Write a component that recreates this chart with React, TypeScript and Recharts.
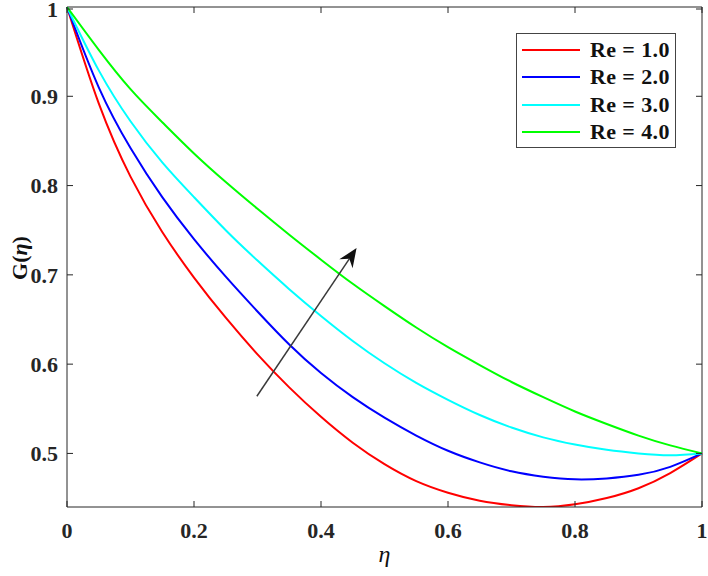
import React from "react";
import { LineChart, Line, XAxis, YAxis, Legend, ReferenceLine } from "recharts";

// eta grid and G(eta) profiles for each Reynolds number
const eta = [0, 0.05, 0.1, 0.15, 0.2, 0.25, 0.3, 0.35, 0.4, 0.45, 0.5, 0.55, 0.6, 0.65, 0.7, 0.75, 0.8, 0.85, 0.9, 0.95, 1];
const re1 = [1, 0.892, 0.81, 0.748, 0.697, 0.652, 0.611, 0.574, 0.541, 0.512, 0.488, 0.469, 0.456, 0.447, 0.442, 0.44, 0.443, 0.45, 0.461, 0.478, 0.5];
const re2 = [1, 0.91, 0.842, 0.787, 0.74, 0.698, 0.659, 0.622, 0.59, 0.563, 0.54, 0.52, 0.503, 0.49, 0.48, 0.474, 0.471, 0.472, 0.476, 0.485, 0.5];
const re3 = [1, 0.929, 0.872, 0.826, 0.787, 0.75, 0.716, 0.684, 0.654, 0.626, 0.601, 0.579, 0.56, 0.543, 0.529, 0.518, 0.51, 0.504, 0.5, 0.498, 0.5];
const re4 = [1, 0.952, 0.908, 0.871, 0.836, 0.804, 0.774, 0.745, 0.717, 0.69, 0.665, 0.641, 0.619, 0.599, 0.58, 0.563, 0.547, 0.533, 0.52, 0.509, 0.5];

const seriesNames = ["Re = 1.0", "Re = 2.0", "Re = 3.0", "Re = 4.0"];
const seriesKeys = ["re1", "re2", "re3", "re4"];
const seriesColors = ["#ff0000", "#0000ff", "#00ffff", "#00ff00"];

const xTicks = [0, 0.2, 0.4, 0.6, 0.8, 1];
const yTicks = [0.5, 0.6, 0.7, 0.8, 0.9, 1];

// arrow showing the direction of increasing Re
const arrowFrom = { x: 0.299, y: 0.564 };
const arrowTo = { x: 0.456, y: 0.73 };

const data = eta.map((e, i) => ({ eta: e, re1: re1[i], re2: re2[i], re3: re3[i], re4: re4[i] }));

const W = 708;
const H = 576;
const PLOT = { left: 67, top: 7, right: 702, bottom: 507 };
const FONT = "'Liberation Serif', 'Times New Roman', serif";
const AXIS = "#262626";

const YTick = (props: any) => {
  const { x, y, payload } = props;
  return (
    <g>
      <text x={x} y={y} dy="0.35em" textAnchor="end" fontFamily={FONT} fontWeight="bold" fontSize={22} fill="#262626">
        {String(payload.value)}
      </text>
      <line x1={PLOT.left} x2={PLOT.left + 6} y1={y} y2={y} stroke={AXIS} />
      <line x1={PLOT.right} x2={PLOT.right - 6} y1={y} y2={y} stroke={AXIS} />
    </g>
  );
};

const XTick = (props: any) => {
  const { x, y, payload } = props;
  return (
    <g>
      <text x={x} y={y} dy="0.71em" textAnchor="middle" fontFamily={FONT} fontWeight="bold" fontSize={22} fill="#262626">
        {String(payload.value)}
      </text>
      <line x1={x} x2={x} y1={PLOT.bottom} y2={PLOT.bottom - 6} stroke={AXIS} />
      <line x1={x} x2={x} y1={PLOT.top} y2={PLOT.top + 6} stroke={AXIS} />
    </g>
  );
};

const Arrow = (props: any) => {
  const { x1, y1, x2, y2 } = props;
  const a = Math.atan2(y2 - y1, x2 - x1);
  const ux = Math.cos(a);
  const uy = Math.sin(a);
  const nx = -uy;
  const ny = ux;
  const len = 19;
  const half = 8;
  const notch = 13;
  const bx = x2 - len * ux;
  const by = y2 - len * uy;
  const pts = [
    [x2, y2],
    [bx + half * nx, by + half * ny],
    [x2 - notch * ux, y2 - notch * uy],
    [bx - half * nx, by - half * ny],
  ]
    .map((p) => p.join(","))
    .join(" ");
  return (
    <g>
      <line x1={x1} y1={y1} x2={x2 - notch * ux} y2={y2 - notch * uy} stroke="#3a3a3a" strokeWidth={1.5} />
      <polygon points={pts} fill="#111" />
    </g>
  );
};

const LegendBox = () => (
  <div
    style={{
      width: 160,
      height: 115,
      boxSizing: "border-box",
      border: "1px solid #444",
      background: "#fff",
      position: "relative",
    }}
  >
    {seriesNames.map((name, i) => (
      <div key={name} style={{ position: "absolute", left: 0, top: 16 + i * 27.3 - 12, height: 24, width: 160 }}>
        <div style={{ position: "absolute", left: 5, top: 11, width: 58, height: 2, background: seriesColors[i] }} />
        <span
          style={{
            position: "absolute",
            left: 73,
            top: 0,
            lineHeight: "24px",
            fontFamily: FONT,
            fontWeight: "bold",
            fontSize: 22,
            letterSpacing: 0.4,
            color: "#111",
            whiteSpace: "nowrap",
          }}
        >
          {name}
        </span>
      </div>
    ))}
  </div>
);

const App = () => {
  return (
    <div style={{ position: "absolute", left: 0, top: 0, width: W, height: H, background: "#fff" }}>
      <LineChart
        width={W}
        height={H}
        data={data}
        margin={{ top: PLOT.top, right: W - PLOT.right, bottom: H - PLOT.bottom - 40, left: PLOT.left - 60 }}
      >
        <XAxis
          dataKey="eta"
          type="number"
          domain={[0, 1]}
          ticks={xTicks}
          height={40}
          tickSize={0}
          tickMargin={15}
          tick={<XTick />}
          stroke={AXIS}
          label={{
            content: (p: any) => {
              const vb = p.viewBox || { x: PLOT.left, y: PLOT.bottom, width: PLOT.right - PLOT.left };
              return (
                <text x={vb.x + vb.width / 2} y={vb.y + 55} textAnchor="middle" fontFamily={FONT} fontStyle="italic" fontSize={24} fill="#111">
                  η
                </text>
              );
            },
          }}
        />
        <YAxis
          type="number"
          domain={[0.44, 1]}
          ticks={yTicks}
          allowDataOverflow
          width={60}
          tickSize={0}
          tickMargin={9}
          tick={<YTick />}
          stroke={AXIS}
          label={{
            content: () => (
              <text
                x={19}
                y={258}
                transform="rotate(-90 19 258)"
                textAnchor="middle"
                dominantBaseline="central"
                fontFamily={FONT}
                fontWeight="bold"
                fontSize={22}
                fill="#111"
              >
                G(<tspan fontStyle="italic">η</tspan>)
              </text>
            ),
          }}
        />
        <ReferenceLine y={1} stroke={AXIS} />
        <ReferenceLine x={1} stroke={AXIS} />
        {seriesKeys.map((k, i) => (
          <Line
            key={k}
            type="natural"
            dataKey={k}
            name={seriesNames[i]}
            stroke={seriesColors[i]}
            strokeWidth={2}
            dot={false}
            isAnimationActive={false}
          />
        ))}
        <ReferenceLine segment={[arrowFrom, arrowTo]} shape={<Arrow />} />
        <Legend
          layout="vertical"
          align="center"
          verticalAlign="middle"
          content={<LegendBox />}
          wrapperStyle={{ left: 516, top: 33, width: 160, height: 115 }}
        />
      </LineChart>
    </div>
  );
};

export default App;
